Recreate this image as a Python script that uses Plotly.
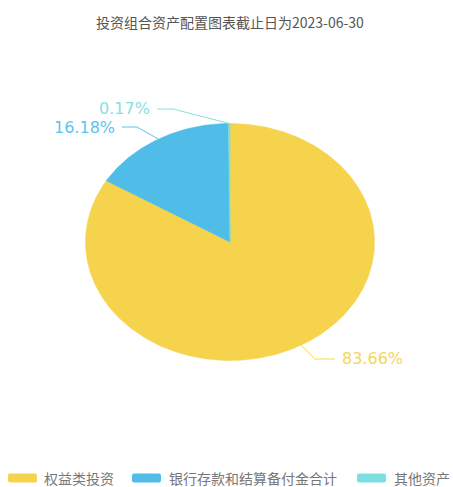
import numpy as np
import plotly.graph_objects as go

# ---- data ----
title_text = "投资组合资产配置图表截止日为2023-06-30"
categories = ["权益类投资", "银行存款和结算备付金合计", "其他资产"]
values = [83.66, 16.18, 0.17]

# ---- style / layout constants ----
W, H = 453, 487
colors = ["#F5D34C", "#4FBDE8", "#7EDFE0"]
label_colors = ["#F5D65A", "#5EC3EA", "#86E0E2"]
CX, CY = 230.0, 242.0      # pie center (pixels)
RX, RY = 144.5, 118.5      # pie radii (pixels)
# leader-line elbow / end and text anchor per slice (pixels)
label_geo = [
    dict(elbow=(315, 359), end=(335, 359), text=(340, 358), anchor="left"),
    dict(elbow=(137, 127), end=(122, 127), text=(117, 127), anchor="right"),
    dict(elbow=(173, 109), end=(157, 109), text=(152, 108), anchor="right"),
]
legend_swatch_x = [8, 132, 357]
legend_text_x = [43, 168, 393]
legend_y = 478
FONT_CJK = "Noto Sans CJK SC"

fig = go.Figure()

total = float(sum(values))
cum = 0.0
annotations = []
for i, (cat, v) in enumerate(zip(categories, values)):
    f0 = cum / total
    f1 = (cum + v) / total
    cum += v
    n = max(3, int((f1 - f0) * 720) + 2)
    th = np.linspace(f0, f1, n) * 2 * np.pi
    xs = np.concatenate([[CX], CX + RX * np.sin(th), [CX]])
    ys = np.concatenate([[CY], CY - RY * np.cos(th), [CY]])
    fig.add_trace(go.Scatter(
        x=xs, y=ys, mode="lines", fill="toself",
        fillcolor=colors[i], line=dict(color=colors[i], width=0.6),
        name=cat, showlegend=False, hoverinfo="skip",
    ))
    # leader line from slice edge at mid angle
    tm = (f0 + f1) / 2 * 2 * np.pi
    ex, ey = CX + RX * np.sin(tm), CY - RY * np.cos(tm)
    g = label_geo[i]
    fig.add_trace(go.Scatter(
        x=[ex, g["elbow"][0], g["end"][0]],
        y=[ey, g["elbow"][1], g["end"][1]],
        mode="lines", line=dict(color=label_colors[i], width=1),
        showlegend=False, hoverinfo="skip",
    ))
    annotations.append(dict(
        x=g["text"][0], y=g["text"][1], xref="x", yref="y",
        text=f"{v:.2f}%", showarrow=False,
        xanchor=g["anchor"], yanchor="middle",
        font=dict(family="DejaVu Sans", size=16, color=label_colors[i]),
    ))
    # legend swatch and text
    sx = legend_swatch_x[i]
    fig.add_shape(
        type="path", xref="x", yref="y",
        path=(f"M{sx+2},{legend_y-4.5} L{sx+27},{legend_y-4.5} "
              f"Q{sx+29},{legend_y-4.5} {sx+29},{legend_y-2.5} L{sx+29},{legend_y+2.5} "
              f"Q{sx+29},{legend_y+4.5} {sx+27},{legend_y+4.5} L{sx+2},{legend_y+4.5} "
              f"Q{sx},{legend_y+4.5} {sx},{legend_y+2.5} L{sx},{legend_y-2.5} "
              f"Q{sx},{legend_y-4.5} {sx+2},{legend_y-4.5} Z"),
        fillcolor=colors[i], line=dict(width=0),
    )
    annotations.append(dict(
        x=legend_text_x[i], y=legend_y, xref="x", yref="y",
        text=cat, showarrow=False, xanchor="left", yanchor="middle",
        borderpad=0,
        font=dict(family=FONT_CJK, size=14, color="#777777"),
    ))

annotations.append(dict(
    x=230, y=22, xref="x", yref="y", text=title_text, showarrow=False,
    xanchor="center", yanchor="middle",
    font=dict(family=FONT_CJK, size=14, color="#555555"),
))

fig.update_layout(
    width=W, height=H, autosize=False,
    margin=dict(l=0, r=0, t=0, b=0),
    paper_bgcolor="white", plot_bgcolor="white",
    xaxis=dict(range=[0, W], visible=False, fixedrange=True),
    yaxis=dict(range=[H, 0], visible=False, fixedrange=True),
    annotations=annotations,
    showlegend=False,
)

fig.write_html(
    "out.html",
    config={"displayModeBar": False},
    post_script="document.body.style.margin='0';document.body.style.overflow='hidden';",
)
